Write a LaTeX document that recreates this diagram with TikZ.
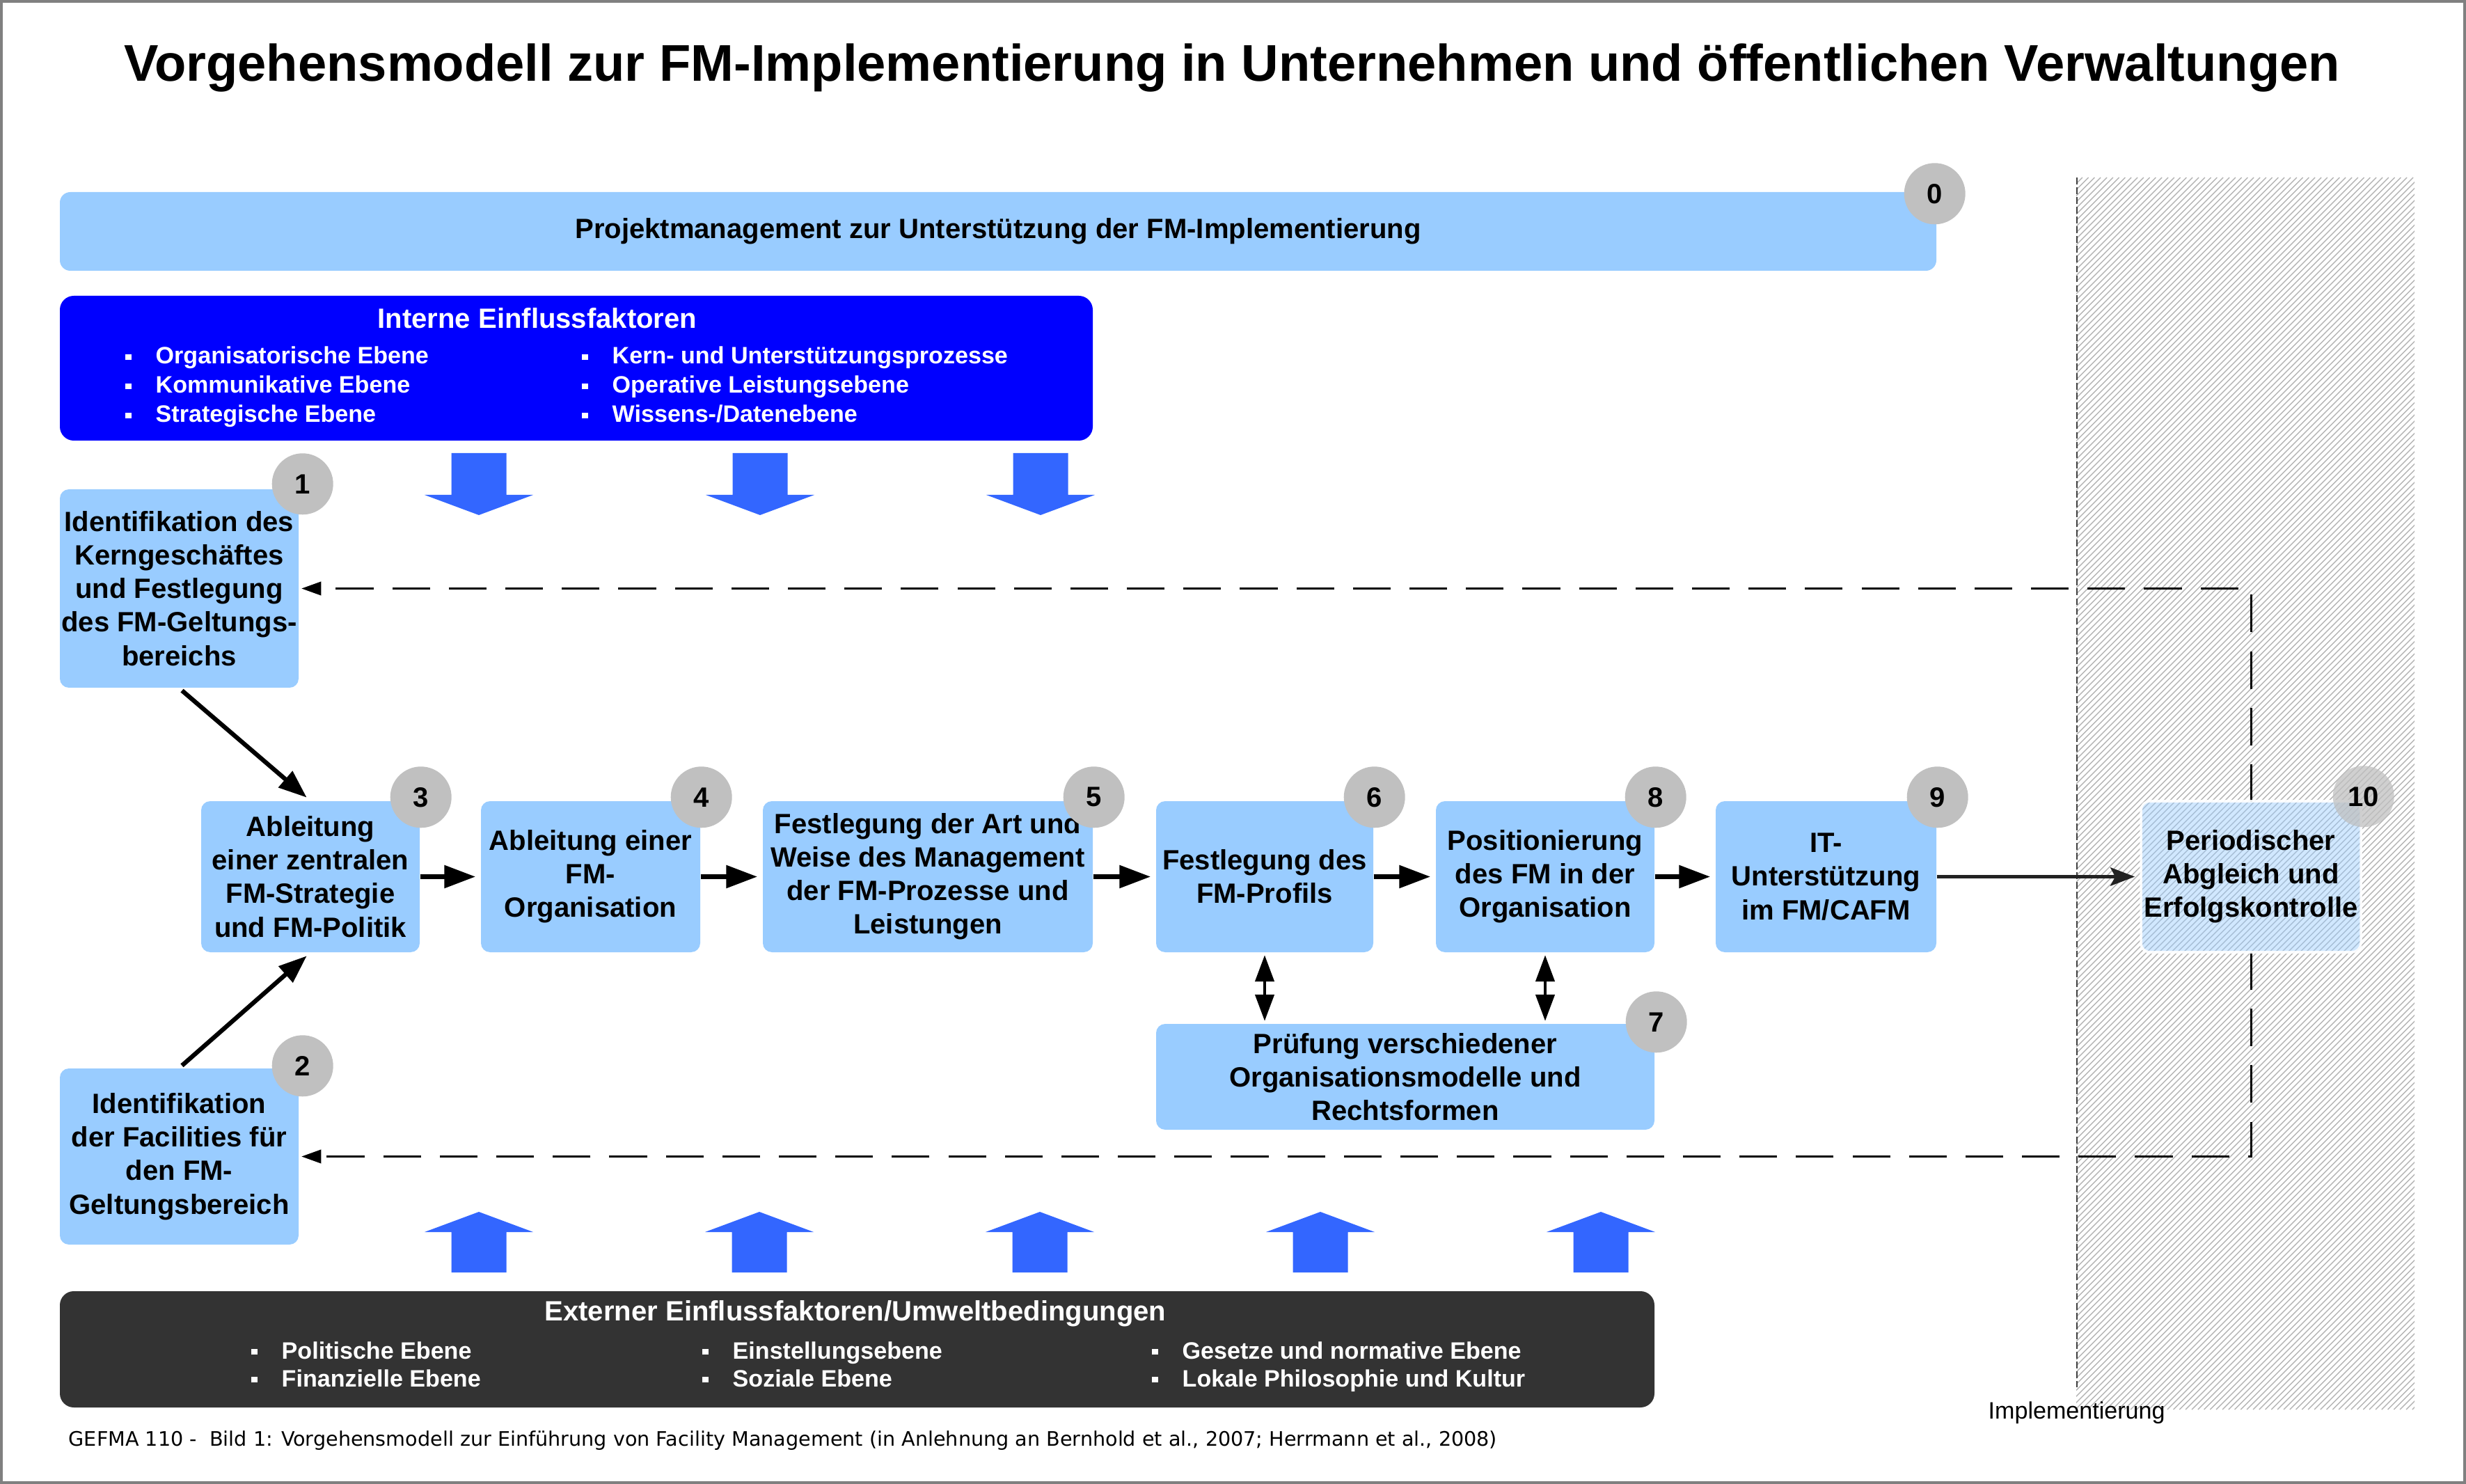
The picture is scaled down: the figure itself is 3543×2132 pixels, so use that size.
\documentclass[tikz,border=0pt]{standalone}
\usepackage{fontspec}
\setmainfont{Liberation Sans}
\newfontfamily\capfont{DejaVu Sans}
\usetikzlibrary{arrows.meta}
\definecolor{boxblue}{HTML}{99CCFF}
\definecolor{intblue}{HTML}{0000FF}
\definecolor{extgray}{HTML}{333333}
\definecolor{numgray}{HTML}{C0C0C0}
\definecolor{arrblue}{HTML}{3366FF}
\definecolor{hatchgray}{HTML}{B4B4B4}
\definecolor{framegray}{HTML}{808080}
\definecolor{thingray}{HTML}{404040}
\definecolor{darkline}{HTML}{222222}
\newcommand\boxfont{\fontsize{11.4}{13.7}\selectfont\bfseries}
\newcommand\itemfont{\fontsize{9.7}{11.5}\selectfont\bfseries}
\newcommand\bul{\llap{\rule[1.6pt]{2.4pt}{2.4pt}\hspace{10pt}}}
\tikzset{
  stepbox/.style={fill=boxblue, rounded corners=1.3mm, inner sep=0pt, align=center, font=\boxfont},
  numcirc/.style={circle, fill=numgray, minimum size=8.8mm, inner sep=0pt, font=\boxfont},
  itemtext/.style={anchor=base west, text=white, font=\itemfont, inner sep=0pt},
  hatchline/.style={hatchgray, line width=0.4pt},
  hborder/.style={thingray, line width=0.65pt, dash pattern=on 2.8pt off 1.2pt},
  flow/.style={line width=2pt, -{Triangle[length=12.8pt,width=9pt]}, shorten >=2pt},
  diag/.style={line width=1.8pt, -{Triangle[length=11.5pt,width=8.5pt]}, shorten >=2pt, shorten <=1.5pt},
  bidir/.style={line width=1.2pt, {Triangle[length=10.8pt,width=7.7pt]}-{Triangle[length=10.8pt,width=7.7pt]}, shorten >=1pt, shorten <=1pt},
  thinarr/.style={darkline, line width=1.4pt, -{Stealth[length=10pt,width=7.5pt,inset=2pt]}, shorten >=2pt},
  fb/.style={line width=0.85pt, dash pattern=on 15.4pt off 7.7pt, -{Triangle[length=8pt,width=5.5pt]}, shorten >=1pt},
  blockarrow/.style={fill=arrblue}
}
\begin{document}
\begin{tikzpicture}[x=0.1mm,y=-0.1mm]
\useasboundingbox (0,0) rectangle (3543,2132);
\draw[framegray, line width=1.14pt] (2,2) rectangle (3541,2130);

% hatched implementation area
\coordinate (hTL) at (2983,255);
\coordinate (hBR) at (3469,2025);
\begin{scope}
  \clip (hTL) rectangle (hBR);
  \foreach \i in {0,...,260} \draw[hatchline] ({1213+\i*8.8},2025) -- ++(1770,-1770);
\end{scope}
\draw[hborder] (2984,255) -- (2984,1993);

% title
\node[anchor=base, font=\fontsize{21.1}{26}\selectfont\bfseries, inner sep=0pt] (title) at (1770,117)
  {Vorgehensmodell zur FM-Implementierung in Unternehmen und öffentlichen Verwaltungen};

% project bar
\node[stepbox, rounded corners=1.5mm, minimum width=269.6mm, minimum height=11.3mm] (b0) at (1434,332.5)
  {Projektmanagement zur Unterstützung der FM-Implementierung};

% internal factors
\node[fill=intblue, rounded corners=2mm, minimum width=148.4mm, minimum height=20.8mm, inner sep=0pt] (intbox) at (828,529) {};
\node[anchor=base, text=white, font=\boxfont, inner sep=0pt] (intT) at (772,472) {Interne Einflussfaktoren};
\node[itemtext] (i1) at (223,523) {\bul Organisatorische Ebene};
\node[itemtext] (i2) at (223,565) {\bul Kommunikative Ebene};
\node[itemtext] (i3) at (223,607) {\bul Strategische Ebene};
\node[itemtext] (i4) at (879,523) {\bul Kern- und Unterstützungsprozesse};
\node[itemtext] (i5) at (879,565) {\bul Operative Leistungsebene};
\node[itemtext] (i6) at (879,607) {\bul Wissens-/Datenebene};

% block arrows down
\foreach \x in {688,1092,1495}
  \fill[blockarrow] ({\x-39.5},651) -- ({\x+39.5},651) -- ({\x+39.5},711) -- ({\x+78},711) -- (\x,740) -- ({\x-78},711) -- ({\x-39.5},711) -- cycle;
% block arrows up
\foreach \x in {688,1091,1494,1897,2300}
  \fill[blockarrow] ({\x-39.5},1828) -- ({\x+39.5},1828) -- ({\x+39.5},1770) -- ({\x+78},1770) -- (\x,1741) -- ({\x-78},1770) -- ({\x-39.5},1770) -- cycle;

% external factors
\node[fill=extgray, rounded corners=2mm, minimum width=229.1mm, minimum height=16.7mm, inner sep=0pt] (extbox) at (1231.5,1938.5) {};
\node[anchor=base, text=white, font=\boxfont, inner sep=0pt] (extT) at (1229,1897) {Externer Einflussfaktoren/Umweltbedingungen};
\node[itemtext] (e1) at (404,1952) {\bul Politische Ebene};
\node[itemtext] (e2) at (404,1992) {\bul Finanzielle Ebene};
\node[itemtext] (e3) at (1052,1952) {\bul Einstellungsebene};
\node[itemtext] (e4) at (1052,1992) {\bul Soziale Ebene};
\node[itemtext] (e5) at (1698,1952) {\bul Gesetze und normative Ebene};
\node[itemtext] (e6) at (1698,1992) {\bul Lokale Philosophie und Kultur};

% process boxes
\node[stepbox, minimum width=34.3mm, minimum height=28.5mm] (b1) at (257.5,845.5)
  {Identifikation des\\Kerngeschäftes\\und Festlegung\\des FM-Geltungs-\\bereichs};
\node[stepbox, minimum width=34.3mm, minimum height=25.3mm] (b2) at (257.5,1661.5)
  {Identifikation\\der Facilities für\\den FM-\\Geltungsbereich};
\node[stepbox, minimum width=31.4mm, minimum height=21.7mm] (b3) at (446,1259.5)
  {Ableitung\\einer zentralen\\FM-Strategie\\und FM-Politik};
\node[stepbox, minimum width=31.5mm, minimum height=21.7mm] (b4) at (848.5,1259.5)
  {Ableitung einer\\FM-\\Organisation};
\node[stepbox, minimum width=47.4mm, minimum height=21.7mm] (b5) at (1333,1259.5)
  {Festlegung der Art und\\Weise des Management\\der FM-Prozesse und\\Leistungen};
\node[stepbox, minimum width=31.2mm, minimum height=21.7mm] (b6) at (1817,1259.5)
  {Festlegung des\\FM-Profils};
\node[stepbox, minimum width=31.4mm, minimum height=21.7mm] (b8) at (2220,1259.5)
  {Positionierung\\des FM in der\\Organisation};
\node[stepbox, minimum width=31.7mm, minimum height=21.7mm] (b9) at (2623.5,1259.5)
  {IT-\\Unterstützung\\im FM/CAFM};
\node[stepbox, minimum width=71.6mm, minimum height=15.2mm] (b7) at (2019,1547)
  {Prüfung verschiedener\\Organisationsmodelle und\\Rechtsformen};

% feedback loops (drawn before box 10)
\draw[fb] (3234,1152) |- (b1.east);
\draw[fb] (3234,1368) |- (b2.east);

\node[stepbox, fill opacity=0.45, text opacity=1, draw=white, draw opacity=0.9, line width=1pt, minimum width=31.6mm, minimum height=21.7mm] (b10) at (3234,1259.5)
  {Periodischer\\Abgleich und\\Erfolgskontrolle};

% connectors
\draw[diag] (b1.south) -- (b3.north);
\draw[diag] (b2.north) -- (b3.south);
\draw[flow] (b3) -- (b4);
\draw[flow] (b4) -- (b5);
\draw[flow] (b5) -- (b6);
\draw[flow] (b6) -- (b8);
\draw[flow] (b8) -- (b9);
\draw[thinarr] (b9) -- (b10);
\draw[bidir] (b6.south) -- (b6.south |- b7.north);
\draw[bidir] (b8.south) -- (b8.south |- b7.north);

% number circles
\node[numcirc] (n0) at ([shift={(-3,3)}]b0.north east) {0};
\node[numcirc] (n1) at ([shift={(5,-7)}]b1.north east) {1};
\node[numcirc] (n2) at ([shift={(5,-3)}]b2.north east) {2};
\node[numcirc] (n3) at ([shift={(1,-5)}]b3.north east) {3};
\node[numcirc] (n4) at ([shift={(1,-5)}]b4.north east) {4};
\node[numcirc] (n5) at ([shift={(1,-5)}]b5.north east) {5};
\node[numcirc] (n6) at ([shift={(1,-5)}]b6.north east) {6};
\node[numcirc] (n8) at ([shift={(1,-5)}]b8.north east) {8};
\node[numcirc] (n9) at ([shift={(1,-5)}]b9.north east) {9};
\node[numcirc] (n7) at ([shift={(2,-2)}]b7.north east) {7};
\node[numcirc, fill opacity=0.75, text opacity=1] (n10) at ([shift={(2,-5)}]b10.north east) {10};

% labels
\node[anchor=base west, font=\fontsize{9.7}{11}\selectfont, inner sep=0pt] (impl) at (2856,2038) {Implementierung};
\node[anchor=base west, font=\capfont\fontsize{8.15}{9.5}\selectfont, inner sep=0pt] (cap) at (98,2077)
  {GEFMA 110 -\ \ Bild 1: Vorgehensmodell zur Einführung von Facility Management (in Anlehnung an Bernhold et al., 2007; Herrmann et al., 2008)};
\end{tikzpicture}
\end{document}
